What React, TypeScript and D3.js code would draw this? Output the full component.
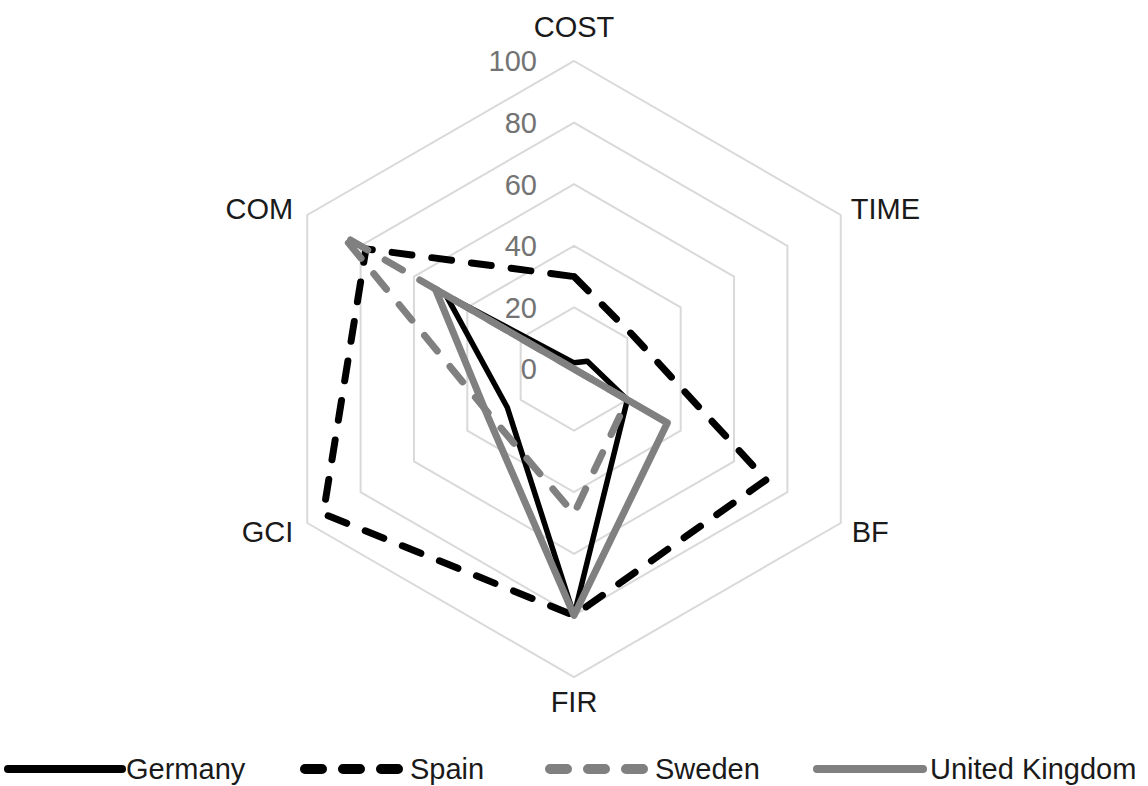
import React, { useEffect, useRef } from 'react';
import * as d3 from 'd3';

// axes, clockwise from the top
const axes = ['COST', 'TIME', 'BF', 'FIR', 'GCI', 'COM'];
const ticks = [0, 20, 40, 60, 80, 100];

const germany = [2, 5, 20, 80, 25, 48];
const spain = [30, 22, 72, 80, 94, 78];
const sweden = [0, 0, 20, 47, 31, 87];
const unitedKingdom = [0, 0, 35, 80, 32, 52];

const seriesNames = ['Germany', 'Spain', 'Sweden', 'United Kingdom'];

export default function App() {
    const ref = useRef<SVGSVGElement>(null);

    const width = 1148;
    const height = 786;
    const cx = 574;
    const cy = 369;
    const font = '"Liberation Sans", Arial, sans-serif';

    useEffect(() => {
        const svg = d3.select(ref.current);
        svg.selectAll('*').remove();

        const rScale = d3.scaleLinear().domain([0, 100]).range([0, 308]);
        const angle = d3.scaleLinear().domain([0, axes.length]).range([0, 2 * Math.PI]);

        const point = (i: number, v: number): [number, number] => {
            const a = angle(i);
            return [cx + rScale(v) * Math.sin(a), cy - rScale(v) * Math.cos(a)];
        };

        const line = d3.line<[number, number]>().curve(d3.curveLinearClosed);

        // grid rings
        const grid = svg.append('g');
        ticks.filter(t => t > 0).forEach(t => {
            grid.append('path')
                .attr('d', line(axes.map((_, i) => point(i, t))))
                .attr('fill', 'none')
                .attr('stroke', '#d9d9d9')
                .attr('stroke-width', 2);
        });

        // value labels along the first axis
        svg.append('g')
            .selectAll('text')
            .data(ticks)
            .enter()
            .append('text')
            .attr('x', cx - 37)
            .attr('y', d => cy - rScale(d))
            .attr('dy', '0.36em')
            .attr('text-anchor', 'end')
            .attr('font-family', font)
            .attr('font-size', 29)
            .attr('fill', '#737373')
            .text(d => d);

        // category labels
        const labelOffsets: [number, number, string][] = [
            [0, -34, 'middle'],
            [10, -6, 'start'],
            [11, 9, 'start'],
            [0, 25, 'middle'],
            [-14, 9, 'end'],
            [-14, -6, 'end'],
        ];
        svg.append('g')
            .selectAll('text')
            .data(axes)
            .enter()
            .append('text')
            .attr('x', (d, i) => point(i, 100)[0] + labelOffsets[i][0])
            .attr('y', (d, i) => point(i, 100)[1] + labelOffsets[i][1])
            .attr('dy', '0.36em')
            .attr('text-anchor', (d, i) => labelOffsets[i][2])
            .attr('font-family', font)
            .attr('font-size', 29)
            .attr('fill', '#1a1a1a')
            .text(d => d);

        const styles = [
            { color: '#000000', width: 5.5, dash: null },
            { color: '#000000', width: 7, dash: '20 20' },
            { color: '#808080', width: 7, dash: '20 20' },
            { color: '#808080', width: 7, dash: null },
        ];
        const data = [germany, spain, sweden, unitedKingdom];

        svg.append('g')
            .selectAll('path')
            .data(data)
            .enter()
            .append('path')
            .attr('d', d => line(d.map((v, i) => point(i, v))))
            .attr('fill', 'none')
            .attr('stroke', (d, i) => styles[i].color)
            .attr('stroke-width', (d, i) => styles[i].width)
            .attr('stroke-dasharray', (d, i) => styles[i].dash)
            .attr('stroke-linecap', (d, i) => styles[i].dash ? 'round' : 'butt')
            .attr('stroke-linejoin', 'round');

        // legend
        const legendX = [8, 300, 545, 817];
        const lineEnd = [114, 104, 104, 106];
        const textX = [118, 110, 110, 113];
        const legendY = 769;
        const legend = svg.append('g')
            .selectAll('g')
            .data(seriesNames)
            .enter()
            .append('g')
            .attr('transform', (d, i) => `translate(${legendX[i]}, ${legendY})`);

        legend.append('line')
            .attr('x1', (d, i) => styles[i].dash ? 5 : 0)
            .attr('x2', (d, i) => lineEnd[i])
            .attr('y1', 0)
            .attr('y2', 0)
            .attr('stroke', (d, i) => styles[i].color)
            .attr('stroke-width', (d, i) => styles[i].dash ? 10 : 8)
            .attr('stroke-dasharray', (d, i) => styles[i].dash ? '17 21' : null)
            .attr('stroke-linecap', 'round');

        legend.append('text')
            .attr('x', (d, i) => textX[i])
            .attr('y', 0)
            .attr('dy', '0.36em')
            .attr('font-family', font)
            .attr('font-size', 29)
            .attr('fill', '#1a1a1a')
            .text(d => d);
    }, []);

    return (
        <svg
            ref={ref}
            width={width}
            height={height}
            style={{ position: 'absolute', left: 0, top: 0, background: '#fff' }}
        />
    );
}
